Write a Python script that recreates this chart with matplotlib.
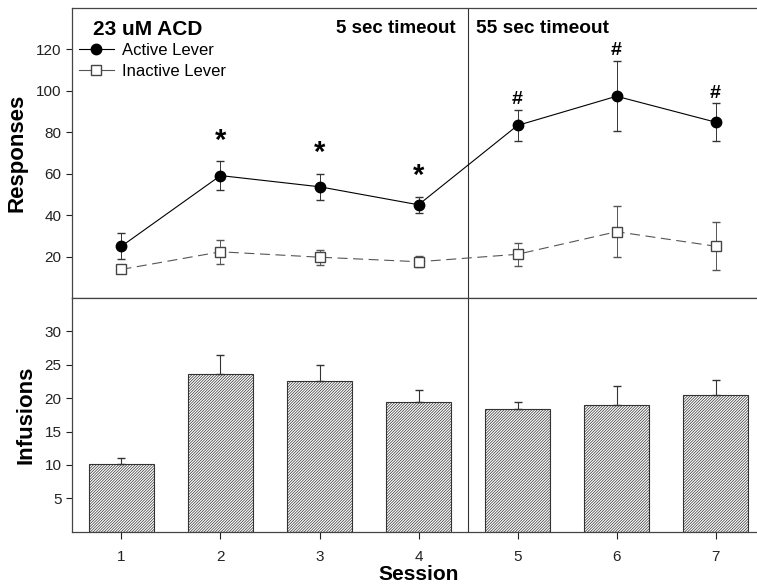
import numpy as np
import matplotlib.pyplot as plt
from matplotlib.lines import Line2D

plt.rcParams['font.family'] = ['Liberation Sans', 'DejaVu Sans']
plt.rcParams['hatch.linewidth'] = 0.5
plt.rcParams['hatch.color'] = '#3a3a3a'

sessions = [1, 2, 3, 4, 5, 6, 7]

# responses (top panel)
active = [25.0, 59.1, 53.7, 45.0, 83.3, 97.4, 84.9]
active_err = [6.3, 6.9, 6.2, 3.8, 7.6, 17.0, 9.0]
inactive = [13.8, 22.3, 19.7, 17.5, 21.1, 32.0, 25.0]
inactive_err = [0.8, 5.8, 3.7, 2.7, 5.5, 12.4, 11.7]
marks = ["", "*", "*", "*", "#", "#", "#"]

# infusions (bottom panel)
infusions = [10.1, 23.6, 22.5, 19.4, 18.4, 19.0, 20.4]
infusions_err = [0.9, 2.8, 2.5, 1.8, 1.0, 2.8, 2.3]

DPI = 100
fig = plt.figure(figsize=(7.57, 5.88), dpi=DPI)
ax1 = fig.add_axes([0.0951, 0.4932, 0.9155, 0.4932])
ax2 = fig.add_axes([0.0951, 0.0957, 0.9155, 0.3975])

frame_col = "#444444"
for ax in (ax1, ax2):
    for s in ax.spines.values():
        s.set_color(frame_col)
        s.set_linewidth(0.9)
    ax.spines["right"].set_visible(False)
    ax.set_xlim(0.5, 7.5)
    ax.axvline(4.5, color="#333333", lw=0.8)
    ax.tick_params(axis="y", direction="out", length=4, width=0.8,
                   colors="#222222", labelsize=11)

# --- top: responses ---
ax1.errorbar(sessions, inactive, yerr=inactive_err, fmt="s", ls=(0, (9, 5)),
             color="#555555", lw=0.8, ms=6.5, mfc="white", mec="#444444",
             capsize=3, elinewidth=0.7, ecolor="#555555", zorder=3)
ax1.errorbar(sessions, active, yerr=active_err, fmt="o-", color="black",
             lw=0.8, ms=7.5, mfc="black", capsize=3, elinewidth=0.7,
             ecolor="#333333", zorder=4)

for x, y, e, m in zip(sessions, active, active_err, marks):
    if m == "*":
        ax1.text(x, y + e + 10, m, ha="center", va="center",
                 fontsize=21, fontweight="bold")
    elif m == "#":
        ax1.text(x, y + e + 5, m, ha="center", va="center",
                 fontsize=14, fontweight="bold")

ax1.set_ylim(0, 140)
ax1.set_yticks([20, 40, 60, 80, 100, 120])
ax1.set_xticks([])
ax1.set_ylabel("Responses", fontsize=16, fontweight="bold", labelpad=6)

handles = [
    Line2D([], [], color="black", lw=0.8, marker="o", ms=7.5, mfc="black"),
    Line2D([], [], color="#555555", lw=0.8, marker="s", ms=6.5,
           mfc="white", mec="#444444"),
]
ax1.legend(handles, ["Active Lever", "Inactive Lever"], loc="upper left",
           bbox_to_anchor=(0.005, 0.89), frameon=False, fontsize=12,
           handlelength=2.1, handletextpad=0.5, labelspacing=0.35,
           borderaxespad=0.0, borderpad=0.2)

ax1.text(0.03, 0.925, "23 uM ACD", transform=ax1.transAxes, ha="left",
         va="center", fontsize=15, fontweight="bold")
ax1.text(4.37, 130, "5 sec timeout", ha="right", va="center",
         fontsize=13.5, fontweight="bold")
ax1.text(4.58, 130, "55 sec timeout", ha="left", va="center",
         fontsize=13.8, fontweight="bold")

# --- bottom: infusions ---
ax2.bar(sessions, infusions, width=0.66, color="white", edgecolor="#333333",
        hatch="////////////", lw=0.8, zorder=2)
ax2.errorbar(sessions, infusions,
             yerr=[np.zeros(len(infusions)), infusions_err],
             fmt="none", ecolor="#333333", elinewidth=0.8, capsize=3, zorder=3)

ax2.set_ylim(0, 35)
ax2.set_yticks([5, 10, 15, 20, 25, 30])
ax2.set_xticks(sessions)
ax2.tick_params(axis="x", direction="out", length=5, width=0.8,
                colors="#222222", labelsize=11, pad=8)
ax2.set_ylabel("Infusions", fontsize=16, fontweight="bold", labelpad=6)
ax2.set_xlabel("Session", fontsize=15, fontweight="bold", labelpad=1)

fig.savefig("out.png", dpi=DPI)
